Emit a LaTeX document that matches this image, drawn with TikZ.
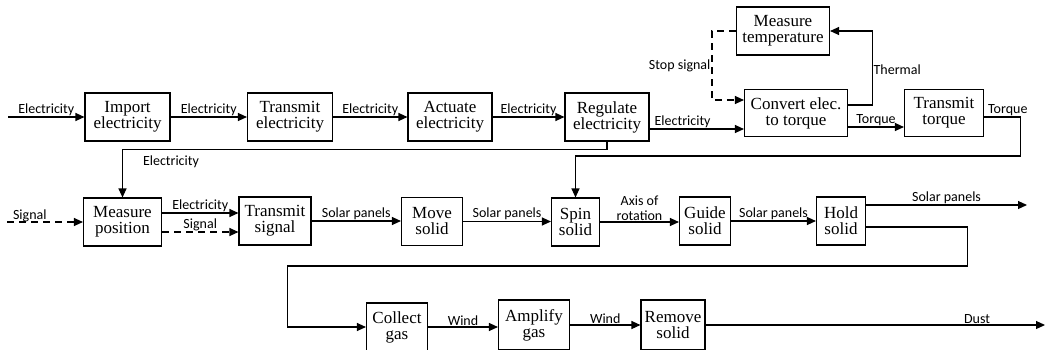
\documentclass[tikz,border=0pt]{standalone}
\usepackage{fontspec}
\setmainfont{Liberation Serif}
\newfontfamily\lblfont{Carlito}
\usepackage{tikz}
\usetikzlibrary{arrows.meta, calc}

\begin{document}
\begin{tikzpicture}[
  x=1pt, y=-1pt,
  box/.style={draw, line width=1.1pt, inner sep=0pt, minimum height=48pt, align=center, font=\fontsize{17}{16}\selectfont},
  lbl/.style={font=\lblfont\fontsize{14}{15}\selectfont, inner sep=1pt},
  arr/.style={-{Triangle[length=9pt, width=8pt]}, line width=1.1pt},
  darr/.style={-{Triangle[length=9pt, width=8pt]}, line width=1.1pt, dash pattern=on 7pt off 5pt}
]
  \useasboundingbox (0,0) rectangle (1046,349);
  \clip (0,0) rectangle (1046,349);

  % Top row (electricity chain)
  \node[box, minimum width=85pt] (imp) at (127.5,117) {Import\\electricity};
  \node[box, minimum width=85pt] (trel) at (290,117) {Transmit\\electricity};
  \node[box, minimum width=84pt] (act) at (450,117) {Actuate\\electricity};
  \node[box, minimum width=84pt] (reg) at (607,117) {Regulate\\electricity};
  \node[box, minimum width=93pt] (meastemp) at (783,31) {Measure\\temperature};
  \node[box, minimum width=103pt, minimum height=47pt] (conv) at (796,113) {Convert elec.\\to torque};
  \node[box, minimum width=79pt, minimum height=47pt] (trtq) at (944,113) {Transmit\\torque};

  % Middle row (solar panels)
  \node[box, minimum width=78pt] (measpos) at (122.5,222) {Measure\\position};
  \node[box, minimum width=72pt] (trsig) at (275,221) {Transmit\\signal};
  \node[box, minimum width=61pt] (move) at (432,221.5) {Move\\solid};
  \node[box, minimum width=48pt] (spin) at (575.5,222) {Spin\\solid};
  \node[box, minimum width=51pt] (guide) at (705,221) {Guide\\solid};
  \node[box, minimum width=49pt] (hold) at (841,221) {Hold\\solid};

  % Bottom row (gas)
  \node[box, minimum width=61pt, minimum height=48pt] (collect) at (397,327) {Collect\\gas};
  \node[box, minimum width=71pt, minimum height=50pt] (amp) at (534,325) {Amplify\\gas};
  \node[box, minimum width=64pt, minimum height=50pt] (remove) at (673,325) {Remove\\solid};

  % Free ends
  \coordinate (inel) at (8,117);
  \coordinate (insig) at (7,222);
  \coordinate (outsol) at (1027,205);
  \coordinate (outdust) at (1045,325);

  \draw[arr] (inel) -- node[lbl, above] {Electricity} (imp.west);
  \draw[arr] (imp) -- node[lbl, above] {Electricity} (trel);
  \draw[arr] (trel) -- node[lbl, above] {Electricity} (act);
  \draw[arr] (act) -- node[lbl, above] {Electricity} (reg);
  \draw[arr] ([yshift=-12pt]reg.east) -- node[lbl, above, pos=0.35] {Electricity} ([yshift=-12pt]reg.east -| conv.west);
  \draw[arr] (reg.south) -- ++(0,8) -| node[lbl, below, pos=0.45, yshift=-5pt] {Electricity} (measpos.north);

  % Torque and temperature loop
  \draw[arr] ([yshift=-14pt]conv.east) -- node[lbl, above] {Torque} ([yshift=-14pt]conv.east -| trtq.west);
  \draw[arr] ([yshift=8pt]conv.east) -- ++(24,0) |- node[lbl, right, pos=0.24] {Thermal} (meastemp.east);
  \draw[darr] (meastemp.west) -- ++(-24,0) |- node[lbl, left, pos=0.25] {Stop signal} ([yshift=13pt]conv.west);
  \draw[arr] ([yshift=-4pt]trtq.east) -| ++(36,39) node[lbl, above, pos=0.33] {Torque} -| (spin.north);

  % Middle row connectors
  \draw[darr] (insig) -- node[lbl, anchor=base, pos=0.3, yshift=3pt] {Signal} (measpos.west);
  \draw[arr] ([yshift=9pt]measpos.east) -- node[lbl, above] {Electricity} ([yshift=9pt]measpos.east -| trsig.west);
  \draw[darr] ([yshift=-10pt]measpos.east) -- node[lbl, above] {Signal} ([yshift=-10pt]measpos.east -| trsig.west);
  \draw[arr] (trsig) -- node[lbl, above] {Solar panels} (trsig -| move.west);
  \draw[arr] (move) -- node[lbl, above] {Solar panels} (move -| spin.west);
  \draw[arr] (spin) -- node[lbl, above, align=center] {Axis of\\rotation} (spin -| guide.west);
  \draw[arr] (guide) -- node[lbl, above] {Solar panels} (hold);
  \draw[arr] ([yshift=16pt]hold.east) -- node[lbl, above] {Solar panels} (outsol);
  \draw[arr] ([yshift=-6pt]hold.east) -- ++(101,0) |- ++(-680,39) |- (collect.west);

  % Bottom row connectors
  \draw[arr] (collect) -- node[lbl, above] {Wind} (collect -| amp.west);
  \draw[arr] (amp) -- node[lbl, above] {Wind} (remove);
  \draw[arr] (remove) -- node[lbl, above, pos=0.8] {Dust} (outdust);
\end{tikzpicture}
\end{document}
